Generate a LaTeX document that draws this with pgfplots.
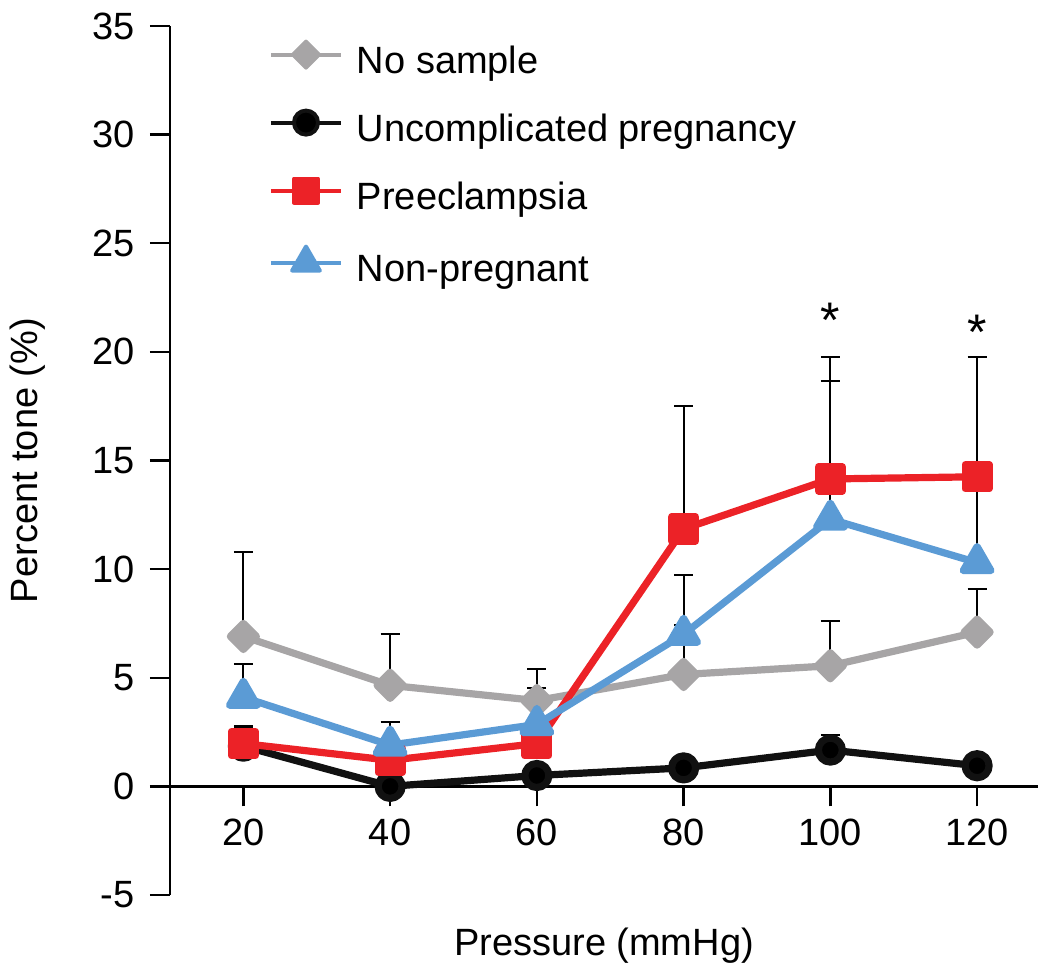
\documentclass[border=0pt]{standalone}
\usepackage{pgfplots}
\pgfplotsset{compat=1.18}
\usepackage{fontspec}
\setmainfont{Liberation Sans}
\definecolor{cgray}{HTML}{A7A5A6}
\definecolor{cblack}{HTML}{111111}
\definecolor{cred}{HTML}{EC2227}
\definecolor{cblue}{HTML}{5B9BD5}

\pgfplotstableread{
x y e
20 6.9 3.9
40 4.65 2.35
60 3.95 1.45
80 5.15 2.3
100 5.55 2.05
120 7.1 2.0
}\nosample
\pgfplotstableread{
x y e
20 1.85 0.9
40 0.0 0.0
60 0.5 0.0
80 0.85 0.0
100 1.67 0.7
120 0.95 0.0
}\uncompl
\pgfplotstableread{
x y e
20 1.97 0.8
40 1.2 0.5
60 1.97 0.5
80 11.85 5.65
100 14.15 5.6
120 14.25 5.5
}\preecl
\pgfplotstableread{
x y e
20 4.1 1.55
40 1.9 1.05
60 2.85 1.7
80 7.0 2.75
100 12.3 6.35
120 10.3 4.0
}\nonpreg

\begin{document}
\fontsize{19}{23}\selectfont
\begin{tikzpicture}
\useasboundingbox (-85pt,-41pt) rectangle (440pt,447.5pt);
\begin{axis}[
  at={(0,0)}, anchor=south west,
  scale only axis, width=434pt, height=434.5pt,
  xmin=10, xmax=128.3, ymin=-5, ymax=35,
  axis y line*=left, axis x line*=middle,
  hide obscured x ticks=false, hide obscured y ticks=false,
  xtick={20,40,60,80,100,120}, xticklabels={20,40,60,80,100,120},
  ytick={-5,0,5,10,15,20,25,30,35}, yticklabels={-5,0,5,10,15,20,25,30,35},
  minor tick num=0,
  tick align=outside, major tick length=10pt,
  tick style={black, line width=1.2pt},
  axis line style={black, line width=1.2pt},
  ticklabel style={font=\fontsize{19}{23}\selectfont, inner sep=0pt},
  xticklabel style={anchor=north, yshift=-6pt},
  yticklabel style={anchor=east, xshift=-7.5pt},
  ylabel={Percent tone (\%)},
  xlabel={Pressure (mmHg)},
  every axis y label/.style={at={([xshift=-80pt]axis description cs:0,0.5)}, rotate=90, anchor=north, inner sep=0pt, font=\fontsize{19}{23}\selectfont},
  every axis x label/.style={at={([yshift=-16.5pt]axis description cs:0.5,0)}, anchor=north, inner sep=0pt, font=\fontsize{19}{23}\selectfont},
  clip=false,
  legend style={at={([xshift=49.5pt,yshift=-7.8pt]axis description cs:0,1)}, anchor=north west,
    draw=none, fill=none, inner sep=0pt, outer sep=0pt, row sep=14.5pt, column sep=7pt,
    font=\fontsize{19}{23}\selectfont,
    nodes={inner sep=0pt, text height=13.5pt, text depth=4pt}},
  legend cell align=left,
  legend image code/.code={\draw[#1, line width=2pt, mark repeat=2, mark phase=2] plot coordinates {(0pt,4.75pt) (17.5pt,4.75pt) (35pt,4.75pt)};},
  every axis plot/.append style={line join=round},
  error bars/y dir=plus, error bars/y explicit,
  error bars/error bar style={black, line width=1pt, solid},
  error bars/error mark options={black, line width=1pt, mark size=4.75pt, rotate=90},
]
\addplot[cgray, line width=3.6pt, mark=square*, mark size=4.6pt, mark options={rotate=45, draw=none, fill=cgray}]
  table[x=x, y=y, y error=e] {\nosample};
\addlegendentry{No sample}
\addplot[cblack, line width=3.6pt, mark=*, mark size=6pt, mark options={draw=none, fill=black}]
  table[x=x, y=y, y error=e] {\uncompl};
\addlegendentry{Uncomplicated pregnancy}
\addplot[cred, line width=3.6pt, mark=square*, mark size=6pt, mark options={draw=none, fill=cred}]
  table[x=x, y=y, y error=e] {\preecl};
\addlegendentry{Preeclampsia}
\addplot[cblue, line width=3.6pt, mark=triangle*, mark size=8pt, mark options={draw=none, fill=cblue}]
  table[x=x, y=y, y error=e] {\nonpreg};
\addlegendentry{Non-pregnant}
\node[inner sep=0pt, font=\fontsize{25}{28}\selectfont] at (axis cs:100,21.45) {*};
\node[inner sep=0pt, font=\fontsize{25}{28}\selectfont] at (axis cs:120,20.9) {*};
\end{axis}
\end{tikzpicture}
\end{document}
